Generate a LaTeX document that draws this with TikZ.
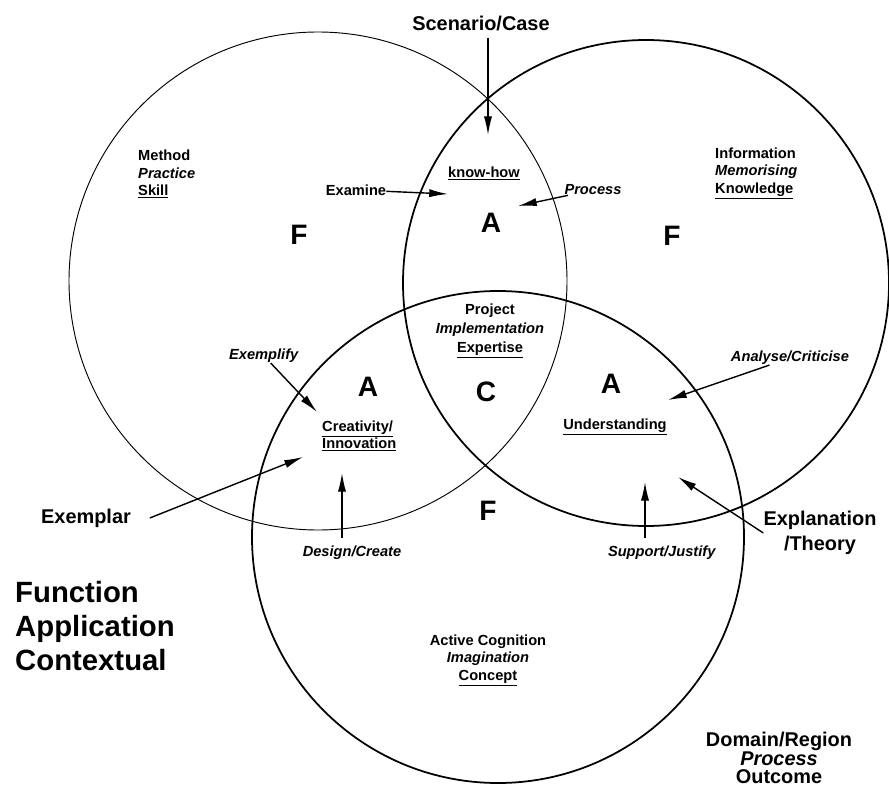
\documentclass[tikz,border=0pt]{standalone}
\usepackage{fontspec}
\setmainfont{Liberation Sans}
\usetikzlibrary{arrows.meta}
\begin{document}
\begin{tikzpicture}[x=0.03cm,y=-0.03cm,
  lbl/.style={font=\fontsize{12.5}{15}\selectfont\bfseries,inner sep=0pt},
  letter/.style={font=\fontsize{24}{28}\selectfont\bfseries,inner sep=0pt},
  head/.style={font=\fontsize{17}{21}\selectfont\bfseries,inner sep=0pt},
  pointer/.style={line width=1.2pt,-{Latex[length=16pt,width=7pt]}}]
\useasboundingbox (0,0) rectangle (889,789);
\draw[line width=0.8pt] (318,281) circle [radius=249];
\draw[line width=1.5pt] (646,283) circle [radius=243];
\draw[line width=1.5pt] (498,537) circle [radius=246];
\node[head] (scen) at (481,23) {Scenario/Case};
\coordinate (scentip) at (488,135);
\draw[pointer,shorten <=6pt] (scen.south -| scentip) -- (scentip);
\node[lbl,anchor=west,align=left] (method) at (138,174) {Method\\\textit{Practice}\\\underline{Skill}};
\node[letter] (fleft) at (299,235) {F};
\node[lbl] (examine) at (356,190) {Examine};
\node[lbl] (knowhow) at (484,173) {\underline{know-how}};
\node[lbl] (process) at (593,190) {\textit{Process}};
\node[letter] (atop) at (491,223) {A};
\coordinate (examinetip) at (448,194);
\coordinate (processtip) at (518,206);
\draw[pointer] (examine) -- (examinetip);
\draw[pointer] (process) -- (processtip);
\node[lbl,anchor=west,align=left] (info) at (715,173) {Information\\\textit{Memorising}\\\underline{Knowledge}};
\node[letter] (fright) at (672,236) {F};
\node[lbl,align=center,font=\fontsize{12.5}{16}\selectfont\bfseries] (project) at (490,331) {Project\\\textit{Implementation}\\\underline{Expertise}};
\node[letter] (aleft) at (368,387) {A};
\node[letter] (centre) at (486,392) {C};
\node[letter] (aright) at (611,384) {A};
\node[lbl] (exemplify) at (264,356) {\textit{Exemplify}};
\coordinate (exemplifytip) at (317,412);
\draw[pointer] (exemplify) -- (exemplifytip);
\node[lbl,anchor=west,align=left] (creativity) at (322,436) {\underline{Creativity/}\\\underline{Innovation}};
\node[lbl] (understanding) at (615,427) {\underline{Understanding}};
\node[lbl] (analyse) at (790,358) {\textit{Analyse/Criticise}};
\coordinate (analysetip) at (668,400);
\draw[pointer] (analyse) -- (analysetip);
\node[head] (exemplar) at (86,518) {Exemplar};
\coordinate (exemplartip) at (303,457);
\draw[pointer] ([xshift=16pt]exemplar.east) -- (exemplartip);
\node[lbl] (design) at (352,553) {\textit{Design/Create}};
\coordinate (designtip) at (342,473);
\draw[pointer,shorten <=7pt] (design.north -| designtip) -- (designtip);
\node[letter] (fbottom) at (488,511) {F};
\node[lbl] (support) at (662,553) {\textit{Support/Justify}};
\coordinate (supporttip) at (645,482);
\draw[pointer,shorten <=7pt] (support.north -| supporttip) -- (supporttip);
\node[head,align=center] (explanation) at (820,533) {Explanation\\/Theory};
\coordinate (explanationtip) at (678,477);
\draw[pointer] (explanation.west) -- (explanationtip);
\node[anchor=west,align=left,font=\fontsize{25}{29}\selectfont\bfseries,inner sep=0pt] (function) at (15,626) {Function\\Application\\Contextual};
\node[lbl,align=center] (active) at (488,660) {Active Cognition\\\textit{Imagination}\\\underline{Concept}};
\node[head,align=center,font=\fontsize{17}{16}\selectfont\bfseries] (domain) at (779,758) {Domain/Region\\\textit{Process}\\Outcome};
\end{tikzpicture}
\end{document}
